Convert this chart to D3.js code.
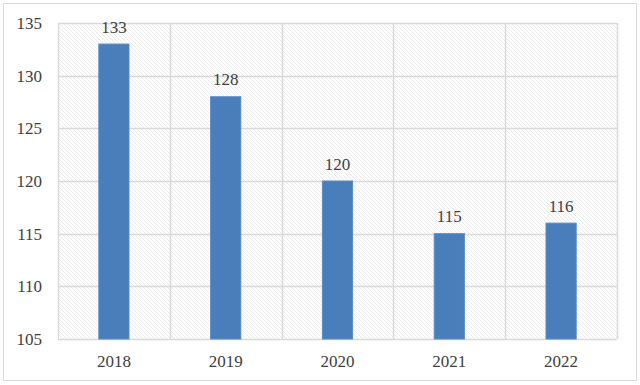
<!DOCTYPE html>
<html>
<head>
<meta charset="utf-8">
<script src="https://cdn.jsdelivr.net/npm/d3@7"></script>
<style>
  body { margin: 0; background: #fff; }
  svg text { font-family: 'Liberation Serif', 'Times New Roman', Times, serif; }
</style>
</head>
<body>
<div id="chart"></div>
<script>
'use strict';

var years = ['2018', '2019', '2020', '2021', '2022'];
var values = [133, 128, 120, 115, 116];
var yTicks = [105, 110, 115, 120, 125, 130, 135];

var width = 640, height = 385;
var margin = {top: 23, right: 23, bottom: 46, left: 58};

var svg = d3.select('#chart').append('svg')
    .attr('width', width)
    .attr('height', height);

// Hatched plot background.
var defs = svg.append('defs');
defs.append('pattern')
    .attr('id', 'hatch')
    .attr('patternUnits', 'userSpaceOnUse')
    .attr('width', 4)
    .attr('height', 4)
  .append('path')
    .attr('d', 'M-1,-1 L5,5 M-1,3 L1,5 M3,-1 L5,1')
    .attr('stroke', '#e2e2e2')
    .attr('stroke-width', 0.7);

// Outer chart border.
svg.append('rect')
    .attr('x', 3.5).attr('y', 3.5)
    .attr('width', 633).attr('height', 377)
    .attr('fill', '#fff')
    .attr('stroke', '#d9d9d9');

var x = d3.scaleBand()
    .domain(years)
    .range([margin.left, width - margin.right])
    .paddingInner(0.73)
    .paddingOuter(0.365);

var xCat = d3.scaleBand()
    .domain(years)
    .range([margin.left, width - margin.right]);

var y = d3.scaleLinear()
    .domain([105, 135])
    .range([height - margin.bottom, margin.top]);

svg.append('rect')
    .attr('x', margin.left)
    .attr('y', margin.top)
    .attr('width', width - margin.left - margin.right)
    .attr('height', height - margin.top - margin.bottom)
    .attr('fill', 'url(#hatch)');

// Horizontal gridlines.
svg.append('g')
  .selectAll('line')
  .data(yTicks)
  .enter().append('line')
    .attr('x1', margin.left)
    .attr('x2', width - margin.right)
    .attr('y1', function(d) { return Math.round(y(d)) + 0.5; })
    .attr('y2', function(d) { return Math.round(y(d)) + 0.5; })
    .attr('stroke', '#d9d9d9')
    .attr('stroke-width', 1.5);

// Vertical gridlines at category edges.
var edges = years.map(function(d) { return xCat(d); });
edges.push(width - margin.right);
svg.append('g')
  .selectAll('line')
  .data(edges)
  .enter().append('line')
    .attr('x1', function(d) { return Math.round(d) + 0.5; })
    .attr('x2', function(d) { return Math.round(d) + 0.5; })
    .attr('y1', margin.top)
    .attr('y2', height - margin.bottom)
    .attr('stroke', '#d9d9d9')
    .attr('stroke-width', 1.5);

// Bars.
svg.append('g')
  .selectAll('rect')
  .data(values)
  .enter().append('rect')
    .attr('x', function(d, i) { return x(years[i]); })
    .attr('y', function(d) { return y(d); })
    .attr('width', x.bandwidth())
    .attr('height', function(d) { return y(105) - y(d); })
    .attr('fill', '#4a7ebb')
    .attr('stroke', '#5b8bc6')
    .attr('stroke-width', 1);

// Value labels.
svg.append('g')
  .selectAll('text')
  .data(values)
  .enter().append('text')
    .attr('x', function(d, i) { return x(years[i]) + x.bandwidth() / 2; })
    .attr('y', function(d) { return y(d) - 11.5; })
    .attr('text-anchor', 'middle')
    .attr('font-size', 17)
    .attr('fill', '#404040')
    .text(function(d) { return d; });

// Y tick labels.
svg.append('g')
  .selectAll('text')
  .data(yTicks)
  .enter().append('text')
    .attr('x', 42)
    .attr('y', function(d) { return y(d) + 6; })
    .attr('text-anchor', 'end')
    .attr('font-size', 17)
    .attr('fill', '#404040')
    .text(function(d) { return d; });

// X tick labels.
svg.append('g')
  .selectAll('text')
  .data(years)
  .enter().append('text')
    .attr('x', function(d) { return xCat(d) + xCat.bandwidth() / 2; })
    .attr('y', 367)
    .attr('text-anchor', 'middle')
    .attr('font-size', 17)
    .attr('fill', '#404040')
    .text(function(d) { return d; });
</script>
</body>
</html>
